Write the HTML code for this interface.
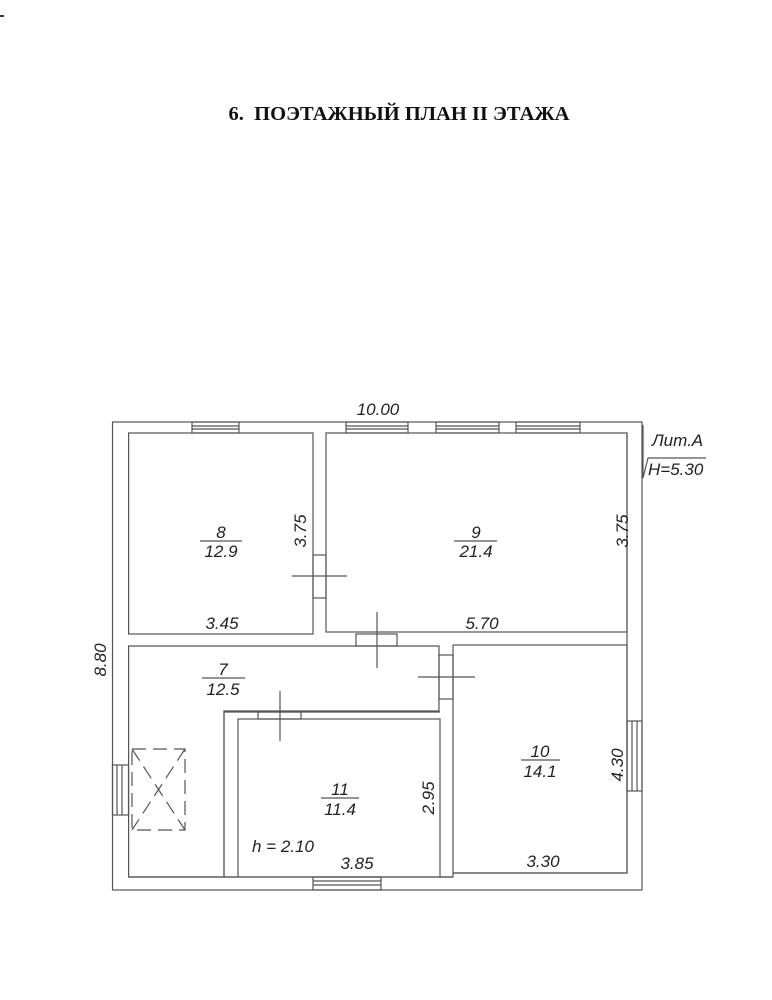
<!DOCTYPE html>
<html><head><meta charset="utf-8"><style>
html,body{margin:0;padding:0;background:#fff;}
svg{display:block;}
.t{font-family:"Liberation Sans",sans-serif;font-style:italic;font-size:17px;fill:#222;}
</style></head><body>
<svg width="772" height="1000" viewBox="0 0 772 1000" xmlns="http://www.w3.org/2000/svg">
<rect x="0" y="15" width="4" height="2" fill="#333"/>
<text x="399" y="120" text-anchor="middle" font-family="Liberation Serif,serif" font-weight="bold" font-size="20.5" fill="#111">6.&#160;&#160;ПОЭТАЖНЫЙ ПЛАН II ЭТАЖА</text>
<g fill="none" stroke="#555" stroke-width="1.2">
<rect x="112.5" y="422" width="529.5" height="468"/>
<rect x="128.6" y="433" width="184.4" height="201"/>
<rect x="326" y="433" width="301" height="199"/>
<path d="M128.6 646 H439 V711 H224 V877 H128.6 Z"/>
<rect x="453" y="645" width="174" height="228"/>
<path d="M224 877 V712 H440"/>
<rect x="238" y="719" width="202" height="158"/>
<path d="M224 877 H238 M440 877 H453 V873"/>
<path d="M128.6 877 H453 M453 873 H627 V433"/>
<rect x="192" y="422" width="47" height="11"/><line x1="192" y1="426" x2="239" y2="426"/><line x1="192" y1="429" x2="239" y2="429"/>
<rect x="346" y="422" width="62" height="11"/><line x1="346" y1="426" x2="408" y2="426"/><line x1="346" y1="429" x2="408" y2="429"/>
<rect x="436" y="422" width="63" height="11"/><line x1="436" y1="426" x2="499" y2="426"/><line x1="436" y1="429" x2="499" y2="429"/>
<rect x="516" y="422" width="64" height="11"/><line x1="516" y1="426" x2="580" y2="426"/><line x1="516" y1="429" x2="580" y2="429"/>
<rect x="313" y="877" width="68" height="13"/><line x1="313" y1="881" x2="381" y2="881"/><line x1="313" y1="885" x2="381" y2="885"/>
<rect x="112.5" y="765" width="16" height="50"/><line x1="117" y1="765" x2="117" y2="815"/><line x1="122" y1="765" x2="122" y2="815"/>
<rect x="627" y="721" width="15" height="70"/><line x1="632" y1="721" x2="632" y2="791"/><line x1="637" y1="721" x2="637" y2="791"/>
<rect x="313" y="555" width="13" height="43"/>
<line x1="292" y1="576" x2="347" y2="576"/>
<rect x="356" y="634" width="41" height="12"/>
<line x1="377" y1="612" x2="377" y2="668"/>
<rect x="439" y="655" width="14" height="44"/>
<line x1="418" y1="677" x2="475" y2="677"/>
<rect x="258" y="712" width="43" height="7"/>
<line x1="280" y1="691" x2="280" y2="741"/>
<rect x="132" y="749" width="53" height="81" stroke-dasharray="14,7"/>
<line x1="132" y1="749" x2="185" y2="830" stroke-dasharray="14,7"/>
<line x1="185" y1="749" x2="132" y2="830" stroke-dasharray="14,7"/>
<line x1="643" y1="425" x2="643" y2="478"/>
<path d="M643 478 L648 458 H706"/>
<line x1="200" y1="541" x2="242" y2="541"/>
<line x1="454" y1="541" x2="497" y2="541"/>
<line x1="202" y1="678" x2="245" y2="678"/>
<line x1="321" y1="798" x2="359" y2="798"/>
<line x1="521" y1="760" x2="560" y2="760"/>
</g>
<g class="t">
<text x="378" y="415" text-anchor="middle">10.00</text>
<text x="221" y="538" text-anchor="middle">8</text>
<text x="221" y="557" text-anchor="middle">12.9</text>
<text x="476" y="538" text-anchor="middle">9</text>
<text x="476" y="557" text-anchor="middle">21.4</text>
<text x="223" y="675" text-anchor="middle">7</text>
<text x="223" y="695" text-anchor="middle">12.5</text>
<text x="340" y="795" text-anchor="middle">11</text>
<text x="340" y="815" text-anchor="middle">11.4</text>
<text x="540" y="757" text-anchor="middle">10</text>
<text x="540" y="777" text-anchor="middle">14.1</text>
<text x="222" y="629" text-anchor="middle">3.45</text>
<text x="482" y="629" text-anchor="middle">5.70</text>
<text x="357" y="869" text-anchor="middle">3.85</text>
<text x="543" y="867" text-anchor="middle">3.30</text>
<text x="252" y="852">h = 2.10</text>
<text x="652" y="446">Лит.A</text>
<text x="648" y="475">H=5.30</text>
<text transform="translate(306,531) rotate(-90)" text-anchor="middle">3.75</text>
<text transform="translate(628,531) rotate(-90)" text-anchor="middle">3.75</text>
<text transform="translate(623,765) rotate(-90)" text-anchor="middle">4.30</text>
<text transform="translate(434,798) rotate(-90)" text-anchor="middle">2.95</text>
<text transform="translate(106,660) rotate(-90)" text-anchor="middle">8.80</text>
</g>
</svg>
</body></html>
